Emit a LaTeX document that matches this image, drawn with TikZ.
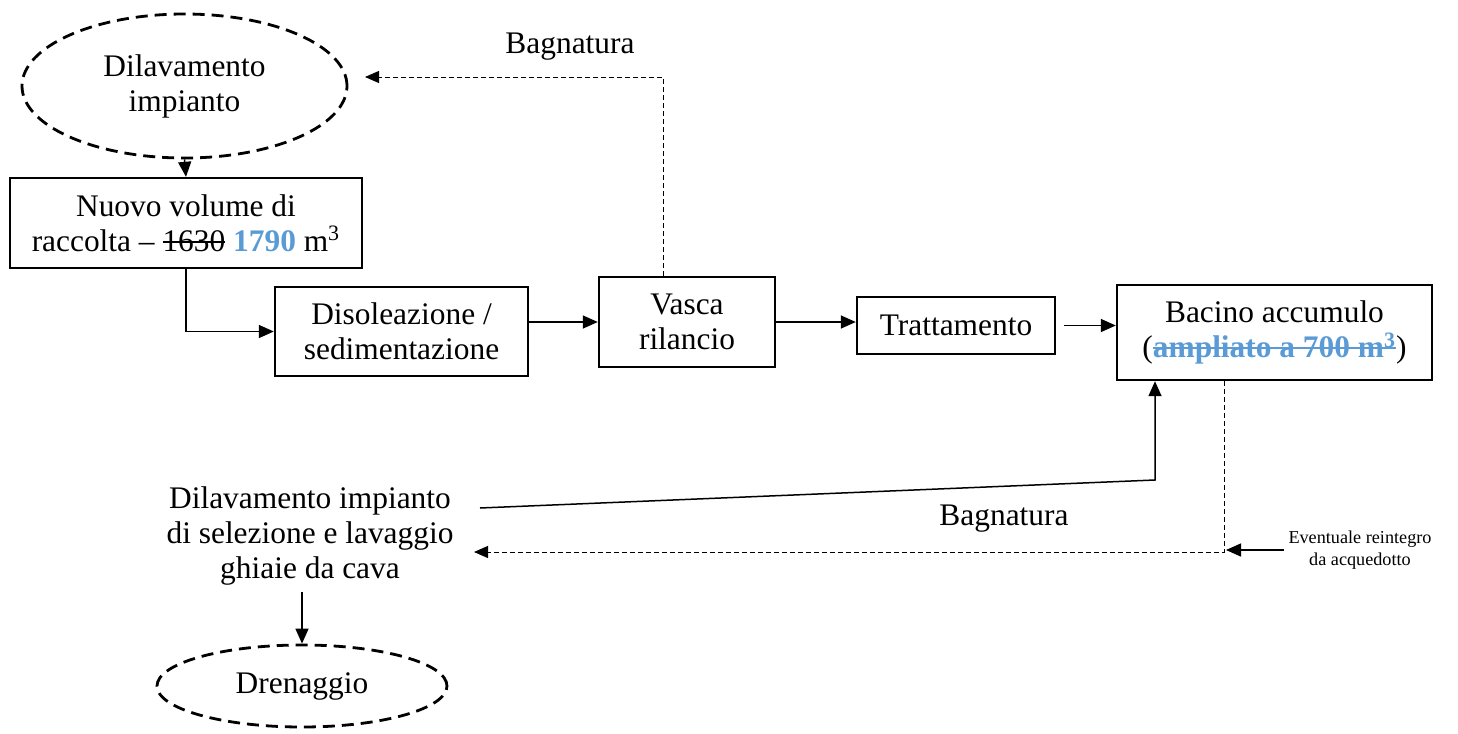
\documentclass[tikz,border=0pt]{standalone}
\usepackage{fontspec}
\setmainfont{Liberation Serif}
\usepackage{xcolor}
\usepackage{tikz}
\usetikzlibrary{positioning,shapes,arrows.meta,shapes.geometric}
\definecolor{wordblue}{RGB}{91,155,213}
\newsavebox{\barbox}
\newcommand{\barred}[1]{\sbox{\barbox}{#1}\rlap{\rule[0.27em]{\wd\barbox}{0.07em}}\usebox{\barbox}}

\begin{document}
\begin{tikzpicture}[
    x=0.5pt, y=-0.5pt,
    font=\fontsize{15.7}{17.5}\selectfont,
    box/.style={draw, rectangle, line width=1.2pt, align=center, inner sep=0pt},
    cloud/.style={draw, ellipse, dash pattern=on 6pt off 3.5pt, line width=1.4pt, align=center, inner sep=0pt},
    line/.style={draw, ->, >={Triangle[length=7.5pt,width=6.5pt]}, line width=0.75pt},
    dline/.style={draw, ->, >={Triangle[length=7pt,width=6pt]}, line width=0.5pt, dash pattern=on 2.5pt off 1.5pt}
]
    \useasboundingbox (0,0) rectangle (1458,734);
    % Nodes
    \node[cloud, minimum width=162.5pt, minimum height=72pt] (impianto) at (184.5,86) {Dilavamento\\impianto};
    \node[box, minimum width=176pt, minimum height=45pt] (nuovo) at (186,223) {Nuovo volume di\\raccolta -- \barred{1630} \textcolor{wordblue}{\textbf{1790}} m\textsuperscript{3}};
    \node[box, minimum width=126.5pt, minimum height=44.5pt] (disol) at (401.5,331.5) {Disoleazione /\\sedimentazione};
    \node[box, minimum width=88pt, minimum height=45pt] (vasca) at (687,322) {Vasca\\rilancio};
    \node[box, minimum width=99pt, minimum height=28.5pt] (tratt) at (956,325.5) {Trattamento};
    \node[box, minimum width=157.5pt, minimum height=47.5pt] (bacino) at (1274.5,332.5) {Bacino accumulo\\(\textcolor{wordblue}{\barred{\textbf{ampliato a 700 m\textsuperscript{3}}}})};
    \node[align=center] (selez) at (310,536) {Dilavamento impianto\\di selezione e lavaggio\\ghiaie da cava};
    \node[cloud, minimum width=145pt, minimum height=41pt] (dren) at (302,686) {Drenaggio};
    \node[align=center, font=\fontsize{9.1}{11}\selectfont, inner sep=2pt] (reint) at (1360,550) {Eventuale reintegro\\da acquedotto};
    \node (bagn1) at (570,47) {Bagnatura};
    \node (bagn2) at (1004,519) {Bagnatura};

    \coordinate (up) at (663,77);
    \coordinate (tip1) at (365,77);
    \coordinate (s1) at (480,508);
    \coordinate (k1) at (1155,480);
    \coordinate (k2) at (1224,552);
    \coordinate (tip2) at (474,552);

    % Connections
    \draw[line] (impianto.south) -- (nuovo.north);
    \draw[line] (nuovo.south) |- (disol.west);
    \draw[line] (vasca.west -| disol.east) -- (vasca.west);
    \draw[line] (vasca.east) -- (vasca.east -| tratt.west);
    \draw[line] ([xshift=4pt]tratt.east) -- (tratt.east -| bacino.west);
    \draw[dline] (vasca.north -| up) -- (up) -- (tip1);
    \draw[line] (s1) -- (k1) -- (bacino.south -| k1);
    \draw[dline] (bacino.south -| k2) -- (k2) -- (tip2);
    \draw[line] (reint.west) -- ([xshift=1pt]reint.west -| k2);
    \draw[line] (dren.north |- selez.south) -- (dren.north);
\end{tikzpicture}
\end{document}
